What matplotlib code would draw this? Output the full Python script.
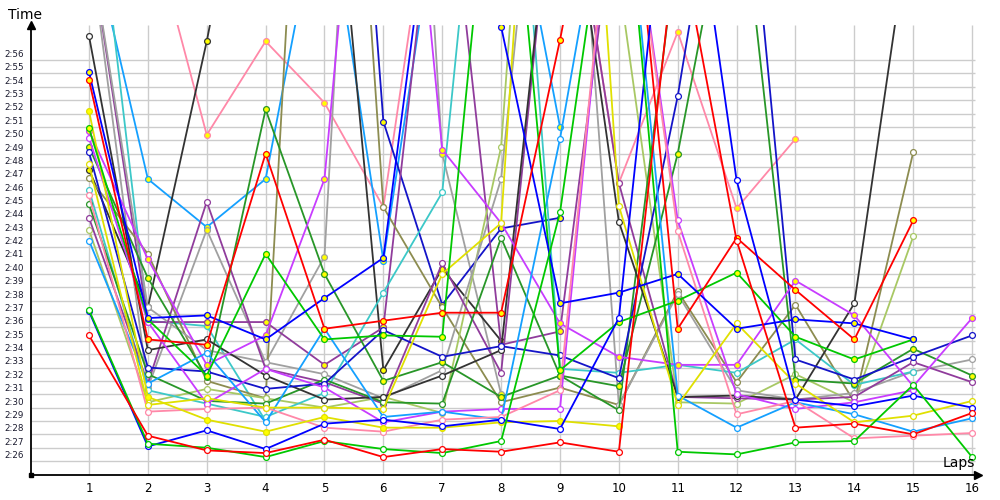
import matplotlib.pyplot as plt
import numpy as np

laps = list(range(1, 17))

# lap times in seconds, None = no lap; values above ~178.6 run off the top
red_w = [155.4, 147.9, 146.8, 146.6, 147.6, 146.3, 146.9, 146.7, 147.4, 146.7, 186, 162.5, 148.5, 148.8, 148.0, 149.6]
red_y = [174.5, 155.1, 154.7, 169.0, 155.9, 156.5, 157.1, 157.1, 177.5, 200, 155.9, 162.7, 158.8, 155.1, 164.0, None]
lime_w = [157.3, 147.3, 147.0, 146.3, 147.5, 146.9, 146.6, 147.5, 164.6, 195, 146.7, 146.5, 147.4, 147.5, 151.7, 146.3]
lime_y = [170.9, 156.6, 152.4, 161.5, 155.1, 155.4, 155.3, 200, 152.8, 156.4, 158.0, 160.1, 155.3, 153.6, 155.1, None]
blue_w = [157.2, 147.1, 148.3, 146.9, 148.8, 149.1, 148.6, 149.1, 148.4, 156.7, 198, 167.0, 150.6, 150.1, 150.9, 150.0]
blue_y = [175.1, 156.7, 156.9, 155.1, 158.2, 161.2, 195, 178.5, 157.8, 158.6, 160.0, 155.9, 156.6, 156.3, 155.1, None]
navy_w = [169.1, 153.0, 152.7, 151.4, 151.8, 155.8, 153.8, 154.6, 153.9, 152.2, 173.3, 200, 153.6, 152.1, 153.8, 155.4]
navy_y = [190, 200, 205, 200, 230, 171.4, 157.7, 163.4, 164.2, None, None, None, None, None, None, None]
yellow_y = [172.2, 150.8, 149.1, 148.2, 149.3, 148.5, 148.5, 148.9, 149.0, 148.6, None, None, None, None, None, None]
yellow_w = [168.2, 150.2, 150.7, 150.0, 150.0, 149.9, 160.0, 163.8, 230, 165.1, 150.2, 156.3, 151.8, 148.9, 149.4, 150.5]
violet_y = [170.7, 161.1, 153.2, 155.4, 167.1, 215, 169.3, 163.8, 156.3, 153.8, 153.2, 153.2, 159.5, 156.9, 151.6, 156.7]
violet_w = [170.2, 156.4, 150.3, 152.9, 151.5, 148.9, 149.7, 149.9, 149.9, 195, 164.0, 151.0, 149.9, 150.4, 151.3, None]
pink_y = [190, 187, 170.4, 177.4, 172.8, 165.0, 195, 200, 195, 166.8, 178.1, 164.9, 170.1, None, None, None]
pink_w = [165.9, 149.7, 149.9, 150.0, 148.5, 148.2, 149.1, 149.3, 151.3, 195, 163.2, 149.5, 150.5, 147.7, 147.9, 148.1]
sky_y = [186, 167.1, 163.5, 167.1, 190, 161.0, 190, 194, 171.0, None, None, None, None, None, None, None]
sky_w = [162.5, 151.8, 154.1, 148.9, 155.9, 149.3, 149.7, 149.1, 170.1, 195, 150.9, 148.5, 150.4, 149.5, 148.2, 149.2]
black_w = [177.8, 154.3, 155.1, 152.4, 150.6, 150.8, 152.4, 154.3, 195, 163.9, 150.8, 150.9, 150.6, 157.8, 188, None]
black_y = [167.8, 157.5, 177.4, 200, 200, 152.8, 160.4, 155.0, None, None, None, None, None, None, None, None]
grey_w = [185, 157.5, 154.3, 153.4, 152.5, 150.7, 152.8, 167.1, 210, 150.2, 158.5, 151.3, 150.6, 151.1, 152.7, 153.6]
grey_y = [185, 151.5, 163.3, 153.4, 161.3, 240, 169.0, 151.0, None, None, None, None, None, None, None, None]
purple_w = [164.2, 151.8, 165.4, 152.9, 151.9, 150.3, 160.8, 152.6, 195, 166.8, 150.8, 150.7, 150.6, 150.8, 153.4, 151.9]
purple_y = [185, 156.4, 156.4, 156.4, 153.2, 156.0, 195, 154.7, 155.7, 190, None, None, None, None, None, None]
green_y = [169.5, 159.7, 152.3, 172.3, 160.0, 152.0, 153.4, 150.8, 152.4, 151.6, 169.0, 192, 152.1, 151.8, 154.4, 152.4]
green_w = [165.2, 152.5, 150.5, 150.3, 152.1, 150.4, 150.3, 162.7, 152.4, 149.8, 185, None, None, None, None, None]
olive_w = [167.2, 161.5, 152.0, 150.7, 230, 165.0, 157.5, 150.4, 151.5, 150.2, 158.7, 151.9, 157.7, 150.4, 169.1, None]
cyan_w = [166.3, 151.3, 150.3, 149.3, 151.1, 158.6, 166.1, 210, 152.9, 152.6, 153.2, 152.6, 155.1, 151.7, 152.7, None]
cyan_y = [194, 156.5, 156.1, 149.0, None, None, None, None, None, None, None, None, None, None, None, None]
lgreen_w = [163.3, 150.4, 151.4, 150.7, 150.0, 150.8, 149.6, 169.5, 230, 182, 150.4, 150.3, 152.5, 150.4, 162.8, None]

drivers = [
    (pink_y, '#ff88a8', 'yellow'), (sky_y, '#14a0ff', 'yellow'),
    (grey_y, '#a0a0a0', 'yellow'), (navy_y, '#1414c8', 'yellow'),
    (cyan_y, '#3cc8c8', 'yellow'), (black_y, '#333333', 'yellow'),
    (purple_y, '#903c9c', 'yellow'), (olive_w, '#8c8c50', 'white'),
    (lgreen_w, '#a8c864', 'white'), (grey_w, '#a0a0a0', 'white'),
    (cyan_w, '#3cc8c8', 'white'), (purple_w, '#903c9c', 'white'),
    (green_w, '#289628', 'white'), (green_y, '#289628', 'yellow'),
    (black_w, '#333333', 'white'), (navy_w, '#1414c8', 'white'),
    (violet_w, '#c83cff', 'white'), (violet_y, '#c83cff', 'yellow'),
    (sky_w, '#14a0ff', 'white'), (pink_w, '#ff88a8', 'white'),
    (yellow_w, '#e0e000', 'white'), (yellow_y, '#e0e000', 'yellow'),
    (lime_y, '#00c800', 'yellow'), (blue_y, '#0000ff', 'yellow'),
    (red_y, '#ff0000', 'yellow'), (blue_w, '#0000ff', 'white'),
    (lime_w, '#00c800', 'white'), (red_w, '#ff0000', 'white'),
]

time_ticks = list(range(146, 177))
time_labels = ['%d:%02d' % (t // 60, t % 60) for t in time_ticks]

fig = plt.figure(figsize=(10, 5), dpi=100)
ax = fig.add_axes([0.031, 0.05, 0.947, 0.90])
x_lo, x_hi = 0.015, 16.1
y_lo, y_hi = 144.96, 178.62
ax.set_xlim(x_lo, x_hi)
ax.set_ylim(y_lo, y_hi)

ax.hlines(time_ticks, x_lo, 16.05, color='#cccccc', lw=1, zorder=0)
ax.vlines(laps, y_lo, y_hi, color='#cccccc', lw=1, zorder=0)

for values, color, face in drivers:
    y = np.array([np.nan if v is None else v for v in values], dtype=float)
    ax.plot(laps, y, color=color, lw=1.3, marker='o', ms=4.2,
            mfc=face, mec=color, mew=0.9, zorder=3)

for side in ['top', 'right']:
    ax.spines[side].set_visible(False)
for side in ['left', 'bottom']:
    ax.spines[side].set_color('black')
    ax.spines[side].set_linewidth(1.3)
    ax.spines[side].set_zorder(5)

ax.plot([0], [1], marker='^', color='black', ms=6, transform=ax.transAxes, clip_on=False, zorder=6)
ax.plot([1], [0], marker='>', color='black', ms=6, transform=ax.transAxes, clip_on=False, zorder=6)
ax.plot([0], [0], marker='s', color='black', ms=3, transform=ax.transAxes, clip_on=False, zorder=6)

ax.set_xticks(laps)
ax.set_xticklabels([str(n) for n in laps], fontsize=8.5)
ax.tick_params(axis='x', length=0, pad=5)

ax.set_yticks([])
for t, lab in zip(time_ticks, time_labels):
    ax.text(-0.0285, t + 0.08, lab, transform=ax.get_yaxis_transform(),
            ha='left', va='bottom', fontsize=6.3, color='#1a1a2e')

fig.text(0.008, 0.97, 'Time', fontsize=10, ha='left', va='center')
fig.text(0.975, 0.074, 'Laps', fontsize=10, ha='right', va='center')

fig.savefig('out.png', dpi=100)
